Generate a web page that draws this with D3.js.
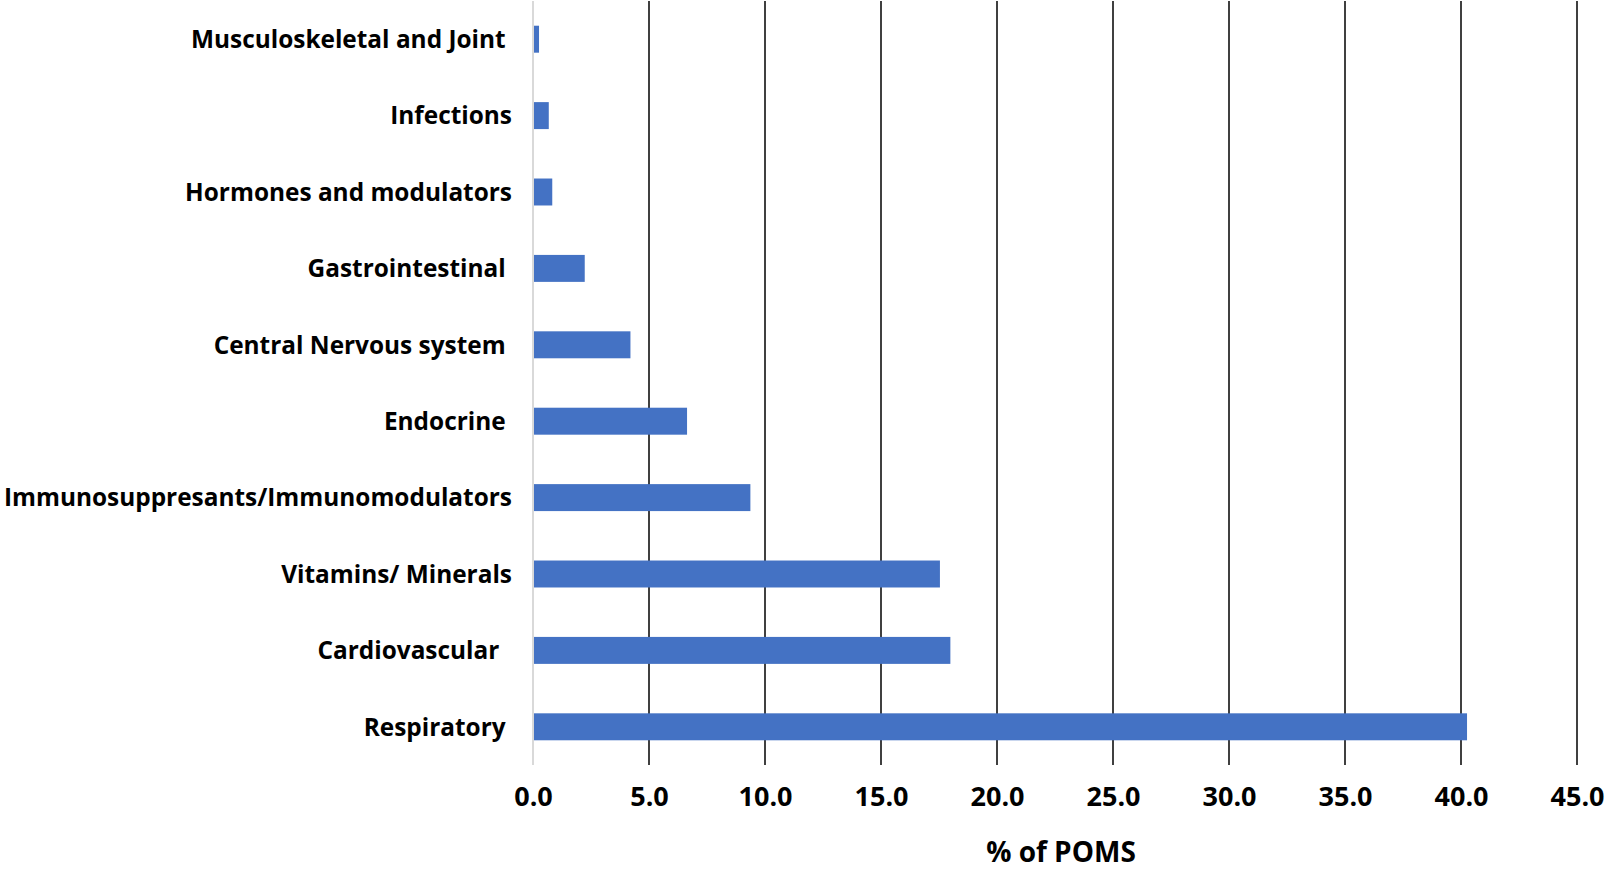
<!DOCTYPE html>
<html>
<head>
<meta charset="utf-8">
<script src="https://cdn.jsdelivr.net/npm/d3@7/dist/d3.min.js"></script>
<style>
  html, body { margin: 0; padding: 0; background: #fff; }
  svg { display: block; }
  text { font-family: "Open Sans", Lato, sans-serif; font-weight: bold; fill: #000; }
</style>
</head>
<body>
<svg id="chart" width="1606" height="872"></svg>
<script>
const categories = [
  "Musculoskeletal and Joint ",
  "Infections",
  "Hormones and modulators",
  "Gastrointestinal ",
  "Central Nervous system ",
  "Endocrine ",
  "Immunosuppresants/Immunomodulators",
  "Vitamins/ Minerals",
  "Cardiovascular  ",
  "Respiratory "
];
const values = [0.26, 0.68, 0.83, 2.23, 4.2, 6.64, 9.37, 17.54, 17.99, 40.26];
const xTicks = [0, 5, 10, 15, 20, 25, 30, 35, 40, 45];
const xTitle = "% of POMS";

const svg = d3.select("#chart");
const pLeft = 533, pRight = 1577, pTop = 1, pBottom = 765;
const FONT = "'Open Sans', Lato, sans-serif";

const x = d3.scaleLinear().domain([0, 45]).range([pLeft, pRight]);
const y = d3.scaleBand().domain(categories).range([pTop, pBottom]).paddingInner(0.647).paddingOuter(0.3235);

// gridlines
svg.append("g").selectAll("line")
  .data(xTicks.filter(d => d > 0))
  .join("line")
  .attr("x1", d => x(d)).attr("x2", d => x(d))
  .attr("y1", pTop).attr("y2", pBottom)
  .attr("stroke", "#000").attr("stroke-width", 1.5);

// bars
svg.append("g").selectAll("rect")
  .data(categories.map((c, i) => ({c, v: values[i]})))
  .join("rect")
  .attr("x", x(0))
  .attr("y", d => y(d.c))
  .attr("width", d => x(d.v) - x(0))
  .attr("height", y.bandwidth())
  .attr("fill", "#4472C4");

// zero axis line
svg.append("line")
  .attr("x1", x(0)).attr("x2", x(0))
  .attr("y1", pTop).attr("y2", pBottom)
  .attr("stroke", "#d9d9d9").attr("stroke-width", 2);

// x axis tick labels
const xAxis = d3.axisBottom(x).tickValues(xTicks).tickFormat(d3.format(".1f")).tickSize(0).tickPadding(0);
const gx = svg.append("g").attr("transform", `translate(0, 806)`).call(xAxis);
gx.select(".domain").remove();
gx.selectAll("text")
  .attr("dy", 0)
  .style("font-family", FONT)
  .style("font-weight", "bold")
  .style("font-size", "27px")
  .attr("fill", "#000");

// y axis labels
const yAxis = d3.axisLeft(y).tickSize(0).tickPadding(0);
const gy = svg.append("g").attr("transform", `translate(512, 0)`).call(yAxis);
gy.select(".domain").remove();
gy.selectAll("text")
  .attr("dy", "0.36em")
  .style("white-space", "pre")
  .style("font-family", FONT)
  .style("font-weight", "bold")
  .style("font-size", "24.4px")
  .attr("fill", "#000");

// x title
svg.append("text")
  .attr("x", (pLeft + pRight) / 2 + 6)
  .attr("y", 862)
  .attr("text-anchor", "middle")
  .style("font-size", "28px")
  .text(xTitle);
</script>
</body>
</html>
